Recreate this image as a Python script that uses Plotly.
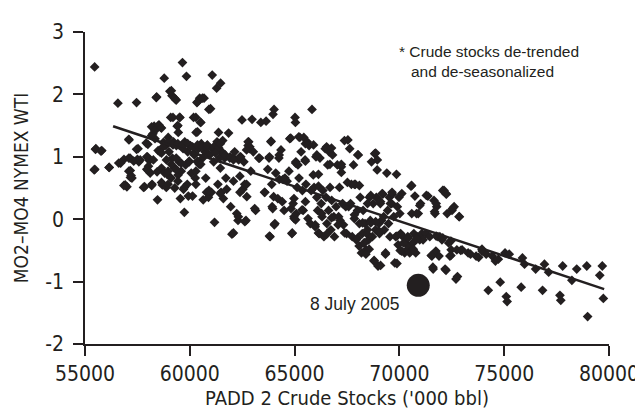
import plotly.graph_objects as go

# Weekly observations: PADD 2 crude stocks ('000 bbl) vs MO2-MO4 NYMEX WTI spread
stocks = [
    55460, 55520, 55800, 55440, 56150, 56570, 56610, 56860, 56920, 57000,
    57100, 57160, 57200, 57240, 57150, 57460, 57460, 57500, 57530, 57570,
    57840, 57920, 57980, 58010, 58070, 58110, 58200, 58240, 58300, 58340,
    58400, 58440, 58460, 58490, 58530, 58570, 58610, 58650, 58690, 58740,
    58780, 58800, 58860, 58880, 58920, 58970, 59010, 59050, 59090, 59110,
    59150, 59170, 59220, 59260, 59280, 59320, 59360, 59400, 59440, 59450,
    59490, 59530, 59550, 59590, 59650, 59680, 59700, 59740, 59760, 59800,
    59840, 59880, 59900, 59930, 59970, 60030, 60070, 60130, 60180, 60220,
    60260, 60300, 60340, 60360, 60410, 60450, 60470, 60510, 60550, 60610,
    60640, 60680, 60720, 60760, 60800, 60840, 60890, 60950, 60990, 61030,
    61070, 61090, 61140, 61180, 61220, 61280, 61300, 61340, 61370, 61410,
    61470, 61490, 61530, 61570, 61600, 61660, 61720, 61760, 61850, 61910,
    61950, 62010, 62070, 62140, 62240, 62300, 62330, 62390, 62430, 62490,
    62530, 62580, 62620, 62680, 62720, 62780, 62810, 62850, 62910, 62970,
    63030, 63140, 63290, 63390, 63580, 63640, 63780, 63830, 63870, 63910,
    63930, 63970, 64000, 64020, 64060, 64100, 64200, 64250, 64350, 64410,
    64450, 64500, 64540, 64640, 64730, 64770, 64830, 64870, 64930, 64970,
    64980, 65020, 65040, 65060, 65080, 65120, 65160, 65210, 65250, 65310,
    65370, 65410, 65440, 65500, 65540, 65600, 65640, 65690, 65750, 65790,
    65830, 65890, 65930, 65980, 66020, 66060, 66100, 66140, 66170, 66210,
    66270, 66310, 66350, 66400, 66460, 66500, 66540, 66580, 66620, 66650,
    66690, 66730, 66770, 66810, 66870, 66900, 66980, 67040, 67100, 67140,
    67170, 67230, 67290, 67330, 67380, 67440, 67480, 67520, 67580, 67630,
    67670, 67710, 67750, 67810, 67850, 67900, 67940, 68000, 68040, 68080,
    68090, 68130, 68190, 68230, 68270, 68320, 68360, 68400, 68440, 68480,
    68530, 68570, 68610, 68670, 68710, 68750, 68790, 68820, 68860, 68900,
    68940, 68980, 69020, 69050, 69090, 69150, 69210, 69250, 69280, 69340,
    69400, 69440, 69480, 69520, 69550, 69630, 69670, 69730, 69780, 69820,
    69860, 69900, 69940, 69980, 70020, 70060, 70110, 70170, 70250, 70300,
    70360, 70400, 70440, 70490, 70550, 70590, 70650, 70690, 70740, 70780,
    70840, 70900, 70970, 71010, 71070, 71130, 71260, 71360, 71450, 71550,
    71610, 71650, 71700, 71740, 71780, 71840, 71890, 71930, 72030, 72130,
    72180, 72240, 72280, 72350, 72410, 72470, 72510, 72610, 72700, 72740,
    72860, 72990, 73280, 73660, 73950, 74140, 74240, 74430, 74580, 74720,
    74810, 75040, 75100, 75140, 75240, 75810, 75870, 75970, 76500, 76830,
    76920, 77120, 77660, 77700, 77790, 78230, 78460, 78940, 78980, 79560,
    79680, 79730,
    # denser band, 57000-61000
    57090, 58000, 58180, 58730, 58963, 59197, 59430, 59666, 59900, 60134,
    60368, 60602, 60836, 55500, 55763, 56155, 55468, 56700, 57090, 57325,
    57635, 57948, 58028, 58262, 58650, 58885, 59120, 59352, 59586, 59975,
    60209, 60368, 60523, 57090, 57167, 56856, 57794, 58180, 58650, 58963,
    59430, 59741, 60289, 57948, 58963, 59352, 60289, 58420, 59120, 59275,
    59352, 60368, 60602, 60911, 59197, 59507, 60289, 60523, 58180, 58494,
    58337, 58650, 59430, 60368,
    # 60800-67300
    60836, 61145, 61380, 61224, 61458, 61692, 61926, 62082, 62394, 62783,
    62862, 62708, 63878, 64814, 65200, 65516, 65904, 66527, 66761, 65516,
    66060, 66138, 66686, 67230, 63800, 63330, 64266, 65048, 63720, 61458,
    62082, 62708, 60911, 61458, 62394, 64266, 64500, 63564,
    62082, 63800, 63097, 63955, 64890, 62317, 62628, 64032, 64968, 65048,
    65516, 65360, 65984, 66293, 66761, 67074, 67387, 66138, 66527,
    # 67200-74000
    67543, 68011, 68867, 68947, 67230, 67855, 68089, 68633, 69180, 69648,
    70116, 69101, 69569, 67855, 68244, 68478, 68633, 68867, 69026, 68010,
    68324, 68558, 69882, 70195, 70429, 70818, 70037, 70663, 70973, 70818,
    71754, 71676, 72536, 72848, 72068, 72223, 70584, 71286, 71754, 72068,
    72458, 72926, 73394, 73784, 73940,
    68401, 68793, 69101, 69882, 69335, 71598, 72223, 72770, 72458, 71520,
]
spread = [
    2.44, 1.13, 1.10, 0.79, 0.83, 1.86, 0.90, 0.96, 0.55, 0.52,
    1.27, 0.78, 0.70, 0.66, 0.98, 1.87, 1.12, 0.96, 1.13, 0.92,
    0.52, 1.22, 1.00, 0.78, 0.94, 0.74, 0.56, 1.37, 1.49, 1.29,
    1.95, 0.76, 0.31, 1.10, 1.51, 1.08, 1.47, 0.82, 0.55, 1.23,
    2.26, 0.74, 1.18, 0.51, 0.72, 1.31, 1.08, 2.05, 1.63, 0.66,
    1.98, 0.98, 1.24, 0.82, 0.50, 1.92, 1.18, 1.49, 0.71, 1.39,
    0.92, 1.63, 0.33, 0.77, 2.51, 1.13, 0.48, 0.11, 1.24, 0.87,
    2.29, 0.56, 1.08, 0.37, 0.92, 1.18, 0.74, 0.37, 1.63, 1.05,
    0.66, 1.39, 1.87, 0.92, 1.13, 0.88, 1.94, 1.55, 1.21, 0.98,
    0.31, 1.94, 1.08, 0.66, 0.43, 1.18, 0.35, 1.03, 1.77, 0.43,
    2.31, 1.13, 0.92, -0.05, 1.08, 2.10, 1.24, 0.56, 1.39, 0.98,
    2.18, 0.43, 1.08, 1.26, 0.33, 0.98, 0.66, 0.48, 1.38, 0.98,
    0.20, -0.24, 0.98, 1.08, 0.09, -0.02, 0.95, 0.69, 1.00, 1.59,
    0.48, 0.92, 0.56, -0.02, 0.36, 1.18, 1.24, 1.13, 0.77, 1.60,
    1.08, 0.14, 0.98, 1.55, 0.43, 1.57, 0.98, -0.28, 1.24, 0.56,
    0.20, 1.68, 0.36, 1.76, -0.07, 0.74, 0.33, 0.98, 1.11, 0.28,
    0.64, 0.14, 0.66, 0.61, 0.77, 1.29, 0.17, -0.23, 0.25, 0.33,
    0.01, 1.63, 1.55, 0.92, 0.09, 0.51, 0.87, 0.66, 1.31, 1.08,
    0.46, 0.14, 1.31, 0.95, 0.56, 1.24, 0.01, 1.18, -0.07, 0.46,
    1.76, 0.71, 0.51, -0.12, 1.00, 0.35, 0.14, 0.53, -0.23, 0.98,
    0.25, 0.04, 0.46, -0.28, 1.13, 0.35, -0.07, 0.87, 0.14, 1.08,
    0.51, -0.17, 0.30, 1.03, 0.04, -0.28, 0.20, 0.87, 0.04, 0.51,
    -0.02, 0.84, 0.25, -0.09, 1.26, 0.20, -0.23, 0.59, 0.20, 1.13,
    0.25, 0.56, -0.28, 0.87, 0.01, 0.56, -0.33, 0.14, 1.03, -0.43,
    -0.07, 0.35, -0.54, -0.23, 0.14, -0.38, -0.07, -0.49, -0.23, 0.25,
    -0.33, 0.35, -0.02, 0.92, -0.28, 0.25, -0.67, 1.05, -0.17, 0.35,
    0.79, -0.75, -0.07, -0.23, 0.25, -0.02, 0.40, 0.04, -0.17, -0.54,
    0.74, 0.14, -0.07, 0.35, -0.28, 0.25, 0.40, 0.04, -0.70, -0.28,
    0.72, 0.20, -0.41, 0.35, 0.09, -0.23, -0.51, -0.28, -0.54, -0.38,
    -0.49, -0.28, -0.43, -0.54, 0.53, 0.09, -0.38, -0.23, 0.37, -0.54,
    -0.28, 0.09, -0.33, 0.25, -0.23, -0.33, -0.23, 0.37, -0.28, -0.59,
    -0.80, 0.30, 0.09, -0.51, 0.20, -0.28, -0.59, -0.28, -0.33, 0.46,
    -0.80, 0.40, 0.09, -0.38, -0.59, -0.49, 0.14, 0.20, -0.96, -0.49,
    0.04, -0.49, -0.54, -0.59, -0.51, -0.56, -1.14, -0.59, -0.67, -0.64,
    -1.01, -0.54, -1.24, -1.32, -0.56, -1.09, -0.62, -0.72, -0.80, -1.14,
    -0.72, -0.85, -1.22, -1.30, -0.75, -0.98, -0.80, -0.75, -1.56, -0.90,
    -0.75, -1.27,
    # denser band, 57000-61000
    1.28, 1.20, 1.34, 1.16, 1.24, 1.19, 1.21, 1.19, 1.21, 1.16,
    1.19, 1.16, 1.14, 1.12, 1.09, 0.83, 0.80, 0.90, 0.98, 0.93,
    0.95, 1.00, 0.85, 0.95, 1.06, 0.95, 0.88, 0.98, 0.90, 0.93,
    1.03, 0.93, 0.88, 0.77, 0.67, 0.54, 0.51, 0.54, 0.59, 0.56,
    0.61, 0.51, 0.56, 0.80, 0.77, 0.80, 0.77, 1.96, 2.06, 1.94,
    1.91, 1.88, 1.94, 1.76, 1.63, 1.63, 1.63, 1.55, 1.48, 1.50,
    1.42, 1.46, 1.50, 1.40,
    # 60800-67300
    1.19, 1.16, 1.14, 1.06, 1.21, 1.03, 1.00, 0.95, 1.00, 1.24,
    1.16, 1.11, 1.25, 1.30, 1.32, 1.21, 1.19, 1.16, 1.14, 0.93,
    1.03, 0.72, 0.88, 0.88, 1.00, 0.98, 1.03, 0.90, 0.80, 0.82,
    0.61, 0.56, 0.46, 0.41, 0.43, 0.64, 0.64, 0.43,
    -0.22, -0.27, 0.17, 0.17, -0.22, 0.04, -0.04, -0.09, 0.04, -0.01,
    0.28, 0.15, -0.09, 0.09, 0.02, -0.09, -0.22, -0.22, -0.24,
    # 67200-74000
    1.27, 1.03, 1.06, 0.95, 0.75, 0.56, 0.54, 0.38, 0.41, 0.43,
    0.41, 0.28, 0.25, 0.07, -0.06, -0.17, -0.06, -0.04, -0.19, -0.30,
    -0.38, -0.48, -0.27, -0.38, -0.30, -0.32, -0.50, -0.48, 0.22, 0.09,
    0.25, 0.12, 0.17, 0.04, 0.46, 0.41, 0.54, 0.38, -0.27, -0.30,
    -0.35, -0.50, -0.56, -0.61, -0.48,
    -0.56, -0.66, -0.74, -0.71, -0.56, -0.77, -0.82, -0.92, -0.58, -0.58,
]

# Fitted trend line end points
trend_x = [56340, 79770]
trend_y = [1.49, -1.12]

# Highlighted observation
event_x = [70900]
event_y = [-1.06]
event_label = "8 July 2005"

x_ticks = [55000, 60000, 65000, 70000, 75000, 80000]
x_ticktext = ["55000", "60000", "65000", "70000", "75000", "80000"]
y_ticks = [-2, -1, 0, 1, 2, 3]
y_ticktext = ["-2", "-1", "0", "1", "2", "3"]

note_line1 = "* Crude stocks de-trended"
note_line2 = "and de-seasonalized"

NARROW = "Liberation Sans Narrow, DejaVu Sans Condensed, Arial Narrow, sans-serif"
REG = "Liberation Sans, Arial, sans-serif"
INK = "#231f20"

fig = go.Figure()
fig.add_trace(go.Scatter(
    x=stocks, y=spread, mode="markers",
    marker=dict(symbol="diamond", size=7.5, color=INK, line=dict(width=0)),
    showlegend=False, hoverinfo="x+y"))
fig.add_trace(go.Scatter(
    x=trend_x, y=trend_y, mode="lines",
    line=dict(color=INK, width=2.5), showlegend=False, hoverinfo="skip"))
fig.add_trace(go.Scatter(
    x=event_x, y=event_y, mode="markers",
    marker=dict(symbol="circle", size=23, color=INK, line=dict(width=0)),
    showlegend=False))

fig.add_annotation(x=event_x[0] - 3000, y=event_y[0] - 0.3, text=event_label,
                   showarrow=False, xanchor="center", yanchor="middle",
                   font=dict(family=REG, size=17.5, color=INK))
fig.add_annotation(x=69900, y=2.68, text=note_line1, showarrow=False,
                   xanchor="left", yanchor="middle",
                   font=dict(family=REG, size=15.5, color=INK))
fig.add_annotation(x=70470, y=2.37, text=note_line2, showarrow=False,
                   xanchor="left", yanchor="middle",
                   font=dict(family=REG, size=15.5, color=INK))

axis_common = dict(showgrid=False, zeroline=False, showline=True,
                   linecolor=INK, linewidth=1.5, ticks="outside", ticklen=10,
                   tickwidth=1.5, tickcolor=INK,
                   tickfont=dict(family=NARROW, size=21, color=INK))

fig.update_xaxes(range=[55000, 80000], tickvals=x_ticks, ticktext=x_ticktext,
                 title=dict(text="PADD 2 Crude Stocks ('000 bbl)", standoff=6,
                            font=dict(family=NARROW, size=20, color=INK)),
                 **axis_common)
fig.update_yaxes(range=[-2, 3], tickvals=y_ticks, ticktext=y_ticktext,
                 ticklabelstandoff=5,
                 title=dict(text="MO2–MO4 NYMEX WTI", standoff=12,
                            font=dict(family=NARROW, size=19, color=INK)),
                 **axis_common)

fig.update_layout(width=643, height=410,
                  margin=dict(l=77, r=32, t=24, b=66),
                  plot_bgcolor="white", paper_bgcolor="white")

fig.write_html("out.html")
